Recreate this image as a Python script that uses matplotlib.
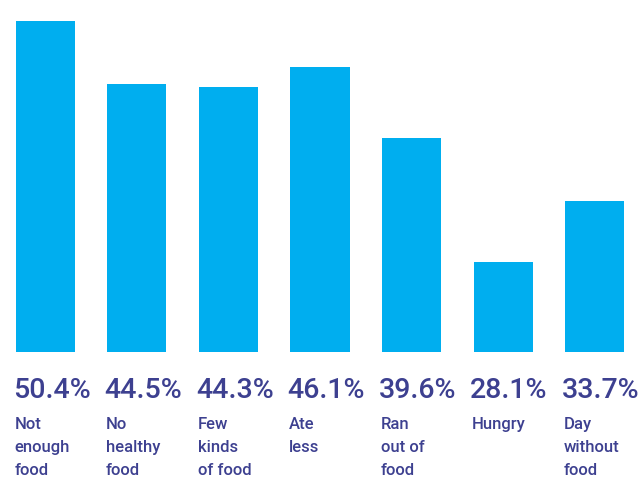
import matplotlib.pyplot as plt
import matplotlib.transforms as mtransforms

categories = ["Not\nenough\nfood", "No\nhealthy\nfood", "Few\nkinds\nof food",
              "Ate\nless", "Ran\nout of\nfood", "Hungry", "Day\nwithout\nfood"]
percent = [50.4, 44.5, 44.3, 46.1, 39.6, 28.1, 33.7]

bar_color = "#00aeef"
text_color = "#3d4090"
font = ["Roboto", "DejaVu Sans"]

fig = plt.figure(figsize=(6.4, 4.86), dpi=100)
ax = fig.add_axes([0, 1 - 352 / 486, 1, 352 / 486])

width = 0.645
x = list(range(len(percent)))
ax.bar(x, percent, width=width, color=bar_color, edgecolor="none")

ax.set_xlim(-0.497, 6.497)
ax.set_ylim(19.8, 52.3)
ax.axis("off")

# text below the bars: x in data units, y in figure fraction
trans = mtransforms.blended_transform_factory(ax.transData, fig.transFigure)
for i, (val, cat) in enumerate(zip(percent, categories)):
    left = i - width / 2 - 0.035
    ax.text(left, 1 - 398 / 486, f"{val:.1f}%", transform=trans,
            ha="left", va="baseline", fontsize=20.5, color=text_color,
            family=font, weight="medium", clip_on=False)
    ax.text(left + 0.02, 1 - 417 / 486, cat, transform=trans,
            ha="left", va="top", fontsize=12, color=text_color,
            family=font, weight="medium", linespacing=1.68, clip_on=False)

fig.savefig("out.png", dpi=100)
